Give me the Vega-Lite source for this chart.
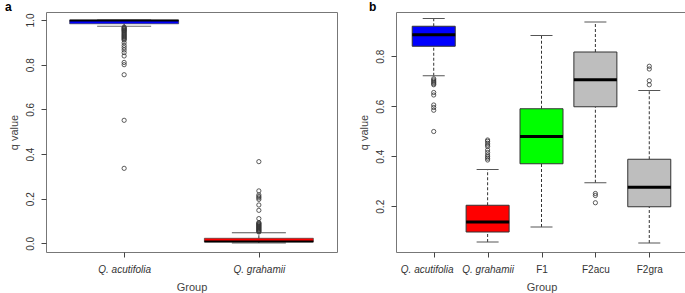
{
  "$schema": "https://vega.github.io/schema/vega-lite/v6.json",
  "padding": {"left": 4, "top": 0, "right": 2, "bottom": 0},
  "spacing": 59,
  "bounds": "flush",
  "resolve": {"scale": {"fill": "independent"}},
  "config": {
    "font": "Liberation Sans",
    "view": {"stroke": "#777", "strokeWidth": 1},
    "axis": {"domain": false, "grid": false, "tickColor": "#444", "tickSize": 5, "labelColor": "#333", "labelFontSize": 10, "titleFontSize": 11, "titleFontWeight": "normal", "titleColor": "#444"},
    "axisY": {"labelAngle": -90, "labelAlign": "center", "labelBaseline": "bottom", "labelPadding": 6, "titlePadding": 6},
    "axisX": {"labelAngle": 0, "labelFontSize": 10, "labelPadding": 7, "titlePadding": 7},
    "title": {"fontSize": 12, "fontWeight": "bold", "anchor": "start", "frame": "group", "baseline": "alphabetic", "offset": -2, "color": "#000"}
  },
  "datasets": {
    "statsA": [
      {"group": "Q. acutifolia", "lower": 0.972, "q1": 0.983, "median": 0.998, "q3": 0.999, "upper": 1.0},
      {"group": "Q. grahamii", "lower": 0.002, "q1": 0.007, "median": 0.009, "q3": 0.023, "upper": 0.048}
    ],
    "outA": [
      {"group": "Q. acutifolia", "v": 0.968}, {"group": "Q. acutifolia", "v": 0.965}, {"group": "Q. acutifolia", "v": 0.962},
      {"group": "Q. acutifolia", "v": 0.959}, {"group": "Q. acutifolia", "v": 0.956}, {"group": "Q. acutifolia", "v": 0.953},
      {"group": "Q. acutifolia", "v": 0.95}, {"group": "Q. acutifolia", "v": 0.946}, {"group": "Q. acutifolia", "v": 0.942},
      {"group": "Q. acutifolia", "v": 0.938}, {"group": "Q. acutifolia", "v": 0.934}, {"group": "Q. acutifolia", "v": 0.93},
      {"group": "Q. acutifolia", "v": 0.926}, {"group": "Q. acutifolia", "v": 0.922}, {"group": "Q. acutifolia", "v": 0.918},
      {"group": "Q. acutifolia", "v": 0.914}, {"group": "Q. acutifolia", "v": 0.91}, {"group": "Q. acutifolia", "v": 0.898},
      {"group": "Q. acutifolia", "v": 0.886}, {"group": "Q. acutifolia", "v": 0.876}, {"group": "Q. acutifolia", "v": 0.866},
      {"group": "Q. acutifolia", "v": 0.854}, {"group": "Q. acutifolia", "v": 0.839}, {"group": "Q. acutifolia", "v": 0.81},
      {"group": "Q. acutifolia", "v": 0.8}, {"group": "Q. acutifolia", "v": 0.755}, {"group": "Q. acutifolia", "v": 0.551},
      {"group": "Q. acutifolia", "v": 0.336},
      {"group": "Q. grahamii", "v": 0.366}, {"group": "Q. grahamii", "v": 0.235}, {"group": "Q. grahamii", "v": 0.217},
      {"group": "Q. grahamii", "v": 0.21}, {"group": "Q. grahamii", "v": 0.204}, {"group": "Q. grahamii", "v": 0.197},
      {"group": "Q. grahamii", "v": 0.172}, {"group": "Q. grahamii", "v": 0.148}, {"group": "Q. grahamii", "v": 0.111},
      {"group": "Q. grahamii", "v": 0.093}, {"group": "Q. grahamii", "v": 0.09}, {"group": "Q. grahamii", "v": 0.087},
      {"group": "Q. grahamii", "v": 0.084}, {"group": "Q. grahamii", "v": 0.081}, {"group": "Q. grahamii", "v": 0.078},
      {"group": "Q. grahamii", "v": 0.075}, {"group": "Q. grahamii", "v": 0.072}, {"group": "Q. grahamii", "v": 0.069},
      {"group": "Q. grahamii", "v": 0.066}, {"group": "Q. grahamii", "v": 0.063}, {"group": "Q. grahamii", "v": 0.06},
      {"group": "Q. grahamii", "v": 0.057}, {"group": "Q. grahamii", "v": 0.054}, {"group": "Q. grahamii", "v": 0.051}
    ],
    "statsB": [
      {"group": "Q. acutifolia", "lower": 0.722, "q1": 0.84, "median": 0.886, "q3": 0.92, "upper": 0.951},
      {"group": "Q. grahamii", "lower": 0.057, "q1": 0.097, "median": 0.137, "q3": 0.204, "upper": 0.347},
      {"group": "F1", "lower": 0.117, "q1": 0.37, "median": 0.479, "q3": 0.59, "upper": 0.883},
      {"group": "F2acu", "lower": 0.294, "q1": 0.598, "median": 0.706, "q3": 0.817, "upper": 0.937},
      {"group": "F2gra", "lower": 0.053, "q1": 0.198, "median": 0.276, "q3": 0.388, "upper": 0.663}
    ],
    "outB": [
      {"group": "Q. acutifolia", "v": 0.71}, {"group": "Q. acutifolia", "v": 0.705}, {"group": "Q. acutifolia", "v": 0.7},
      {"group": "Q. acutifolia", "v": 0.695}, {"group": "Q. acutifolia", "v": 0.69}, {"group": "Q. acutifolia", "v": 0.686},
      {"group": "Q. acutifolia", "v": 0.655}, {"group": "Q. acutifolia", "v": 0.645}, {"group": "Q. acutifolia", "v": 0.605},
      {"group": "Q. acutifolia", "v": 0.595}, {"group": "Q. acutifolia", "v": 0.584}, {"group": "Q. acutifolia", "v": 0.499},
      {"group": "Q. grahamii", "v": 0.465}, {"group": "Q. grahamii", "v": 0.46}, {"group": "Q. grahamii", "v": 0.452},
      {"group": "Q. grahamii", "v": 0.445}, {"group": "Q. grahamii", "v": 0.439}, {"group": "Q. grahamii", "v": 0.425},
      {"group": "Q. grahamii", "v": 0.415}, {"group": "Q. grahamii", "v": 0.405}, {"group": "Q. grahamii", "v": 0.398},
      {"group": "Q. grahamii", "v": 0.392}, {"group": "Q. grahamii", "v": 0.385},
      {"group": "F2acu", "v": 0.251}, {"group": "F2acu", "v": 0.243}, {"group": "F2acu", "v": 0.214},
      {"group": "F2gra", "v": 0.76}, {"group": "F2gra", "v": 0.749}, {"group": "F2gra", "v": 0.702}, {"group": "F2gra", "v": 0.686}
    ]
  },
  "hconcat": [
    {
      "width": 291,
      "height": 240,
      "title": {"text": "a", "dx": -41},
      "encoding": {
        "x": {"field": "group", "type": "nominal", "sort": ["Q. acutifolia", "Q. grahamii"], "scale": {"type": "point", "padding": 0.58},
          "axis": {"title": "Group", "labelFontStyle": {"condition": {"test": "indexof(datum.value, 'Q.') === 0", "value": "italic"}, "value": "normal"}}}
      },
      "layer": [
        {"data": {"name": "statsA"}, "mark": {"type": "rule", "color": "#333", "strokeDash": [3, 2]},
          "encoding": {"y": {"field": "lower", "type": "quantitative", "scale": {"domain": [-0.0385, 1.0358], "nice": false, "zero": false},
            "axis": {"title": "q value", "values": [0, 0.2, 0.4, 0.6, 0.8, 1.0], "format": ".1f"}}, "y2": {"field": "q1"}}},
        {"data": {"name": "statsA"}, "mark": {"type": "rule", "color": "#333", "strokeDash": [3, 2]},
          "encoding": {"y": {"field": "q3", "type": "quantitative"}, "y2": {"field": "upper"}}},
        {"data": {"name": "statsA"}, "mark": {"type": "tick", "size": 54, "thickness": 1, "color": "#666", "opacity": 1},
          "encoding": {"y": {"field": "lower", "type": "quantitative"}}},
        {"data": {"name": "statsA"}, "mark": {"type": "tick", "size": 54, "thickness": 1, "color": "#555", "opacity": 1},
          "encoding": {"y": {"field": "upper", "type": "quantitative"}}},
        {"data": {"name": "statsA"}, "mark": {"type": "bar", "size": 109, "stroke": "#333", "strokeWidth": 0.6},
          "encoding": {"y": {"field": "q1", "type": "quantitative"}, "y2": {"field": "q3"},
            "fill": {"field": "group", "type": "nominal", "scale": {"domain": ["Q. acutifolia", "Q. grahamii"], "range": ["#0000ff", "#ff0000"]}, "legend": null}}},
        {"data": {"name": "statsA"}, "mark": {"type": "tick", "size": 109, "thickness": 2, "color": "#000", "opacity": 1},
          "encoding": {"y": {"field": "median", "type": "quantitative"}}},
        {"data": {"name": "outA"}, "mark": {"type": "point", "shape": "circle", "filled": false, "size": 18, "color": "#333", "strokeWidth": 0.8, "opacity": 1},
          "encoding": {"y": {"field": "v", "type": "quantitative"}}}
      ]
    },
    {
      "width": 291,
      "height": 240,
      "title": {"text": "b", "dx": -27},
      "encoding": {
        "x": {"field": "group", "type": "nominal", "sort": ["Q. acutifolia", "Q. grahamii", "F1", "F2acu", "F2gra"], "scale": {"type": "point", "padding": 0.7},
          "axis": {"title": "Group",
            "labelFontStyle": {"condition": {"test": "indexof(datum.value, 'Q.') === 0", "value": "italic"}, "value": "normal"},
            "labelOffset": {"condition": {"test": "datum.value === 'Q. acutifolia'", "value": -7}, "value": 0}}}
      },
      "layer": [
        {"data": {"name": "statsB"}, "mark": {"type": "rule", "color": "#333", "strokeDash": [3, 2]},
          "encoding": {"y": {"field": "lower", "type": "quantitative", "scale": {"domain": [0.017, 0.977], "nice": false, "zero": false},
            "axis": {"title": "q value", "values": [0.2, 0.4, 0.6, 0.8], "format": ".1f"}}, "y2": {"field": "q1"}}},
        {"data": {"name": "statsB"}, "mark": {"type": "rule", "color": "#333", "strokeDash": [3, 2]},
          "encoding": {"y": {"field": "q3", "type": "quantitative"}, "y2": {"field": "upper"}}},
        {"data": {"name": "statsB"}, "mark": {"type": "tick", "size": 22, "thickness": 1, "color": "#555", "opacity": 1},
          "encoding": {"y": {"field": "lower", "type": "quantitative"}}},
        {"data": {"name": "statsB"}, "mark": {"type": "tick", "size": 22, "thickness": 1, "color": "#555", "opacity": 1},
          "encoding": {"y": {"field": "upper", "type": "quantitative"}}},
        {"data": {"name": "statsB"}, "mark": {"type": "bar", "size": 43, "stroke": "#333", "strokeWidth": 1},
          "encoding": {"y": {"field": "q1", "type": "quantitative"}, "y2": {"field": "q3"},
            "fill": {"field": "group", "type": "nominal", "scale": {"domain": ["Q. acutifolia", "Q. grahamii", "F1", "F2acu", "F2gra"], "range": ["#0000ff", "#ff0000", "#00ff00", "#bebebe", "#bebebe"]}, "legend": null}}},
        {"data": {"name": "statsB"}, "mark": {"type": "tick", "size": 43, "thickness": 3, "color": "#000", "opacity": 1},
          "encoding": {"y": {"field": "median", "type": "quantitative"}}},
        {"data": {"name": "outB"}, "mark": {"type": "point", "shape": "circle", "filled": false, "size": 18, "color": "#333", "strokeWidth": 0.8, "opacity": 1},
          "encoding": {"y": {"field": "v", "type": "quantitative"}}}
      ]
    }
  ]
}
